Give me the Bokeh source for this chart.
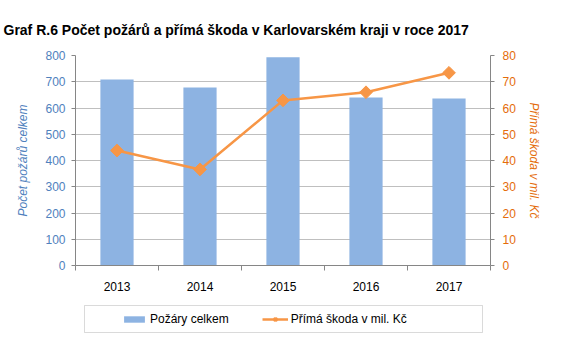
import math
from bokeh.plotting import figure
from bokeh.layouts import column
from bokeh.models import (Range1d, LinearAxis, FixedTicker, Legend, LegendItem,
                          ColumnDataSource, BoxAnnotation)
from bokeh.embed import file_html
from bokeh.resources import INLINE

# ---- data ----
years = ["2013", "2014", "2015", "2016", "2017"]
pozary = [709, 678, 793, 640, 636]
skoda = [43.8, 36.6, 62.9, 66.0, 73.4]
left_ticks = [0, 100, 200, 300, 400, 500, 600, 700, 800]
right_ticks = [0, 10, 20, 30, 40, 50, 60, 70, 80]
series_names = ["Požáry celkem", "Přímá škoda v mil. Kč"]

BAR = "#8DB3E2"
LINE = "#F79646"
LBLUE = "#4F81BD"
LORANGE = "#E46C0A"
AXIS = "#868686"
GRID = "#BFBFBF"
FONT = "Liberation Sans"

xs = [i + 1 for i in range(len(years))]
src = ColumnDataSource(dict(x=xs, pozary=pozary, skoda=skoda))

p = figure(width=575, height=303, output_backend="svg", toolbar_location=None,
           x_range=Range1d(0.5, len(years) + 0.5), y_range=Range1d(0, 800),
           min_border_left=75, min_border_right=85, min_border_top=55,
           min_border_bottom=38)
p.outline_line_color = None
p.extra_y_ranges = {"r": Range1d(0, 80)}

p.title.text = "Graf R.6 Počet požárů a přímá škoda v Karlovarském kraji v roce 2017"
p.title.text_font = FONT
p.title.text_font_style = "bold"
p.title.text_font_size = "14px"
p.title.text_color = "#000000"
p.title.align = "left"
p.title.offset = -72
p.title.standoff = 36

p.vbar(x="x", top="pozary", width=0.4, source=src, fill_color=BAR, line_color=None)
p.line(x="x", y="skoda", source=src, y_range_name="r", line_color=LINE, line_width=2.5)
p.scatter(x="x", y="skoda", source=src, y_range_name="r", marker="square",
          angle=math.pi / 4, size=9, fill_color=LINE, line_color=LINE)

# x axis
xa = p.xaxis[0]
xa.ticker = FixedTicker(ticks=xs, minor_ticks=[x - 0.5 for x in xs] + [xs[-1] + 0.5])
xa.major_label_overrides = {x: y for x, y in zip(xs, years)}
xa.major_tick_out = 0
xa.major_tick_in = 0
xa.minor_tick_out = 5
xa.minor_tick_in = 0
xa.minor_tick_line_color = AXIS
xa.axis_line_color = AXIS
xa.major_label_text_font = FONT
xa.major_label_text_font_size = "12px"
xa.major_label_text_color = "#000000"
xa.major_label_standoff = 11
p.xgrid.grid_line_color = None

# left axis
ya = p.yaxis[0]
ya.ticker = FixedTicker(ticks=left_ticks)
ya.axis_line_color = AXIS
ya.major_tick_line_color = AXIS
ya.major_tick_out = 4
ya.major_tick_in = 0
ya.minor_tick_line_color = None
ya.major_label_text_font = FONT
ya.major_label_text_font_size = "12px"
ya.major_label_text_color = LBLUE
ya.major_label_standoff = 6
ya.axis_label = "Počet požárů celkem"
ya.axis_label_text_font = FONT
ya.axis_label_text_font_style = "italic"
ya.axis_label_text_font_size = "12px"
ya.axis_label_text_color = LBLUE
ya.axis_label_standoff = 12
p.ygrid.grid_line_color = GRID
p.ygrid.ticker = FixedTicker(ticks=left_ticks)

# right axis
ra = LinearAxis(y_range_name="r", ticker=FixedTicker(ticks=right_ticks))
ra.axis_line_color = AXIS
ra.major_tick_line_color = AXIS
ra.major_tick_out = 4
ra.major_tick_in = 0
ra.minor_tick_line_color = None
ra.major_label_text_font = FONT
ra.major_label_text_font_size = "12px"
ra.major_label_text_color = LORANGE
ra.major_label_standoff = 8
ra.axis_label = "Přímá škoda v mil. Kč"
ra.axis_label_text_font = FONT
ra.axis_label_text_font_style = "italic"
ra.axis_label_text_font_size = "12px"
ra.axis_label_text_color = LORANGE
ra.axis_label_standoff = 8
p.add_layout(ra, "right")

# ---- legend strip (same frame borders as the chart; ranges far from the data,
# so its glyphs only serve the legend) ----
B = 1000
lg = figure(width=575, height=48, output_backend="svg", toolbar_location=None,
            x_range=Range1d(B + 75, B + 490), y_range=Range1d(B, B + 48),
            x_axis_type=None, y_axis_type=None,
            min_border_left=75, min_border_right=85, min_border_top=0,
            min_border_bottom=0)
lg.outline_line_color = None
lg.xgrid.visible = False
lg.ygrid.visible = False
lg.add_layout(BoxAnnotation(left=B + 84, right=B + 482, bottom=B + 19, top=B + 46,
                            fill_alpha=0, line_color=AXIS, line_width=1))
lb = lg.vbar(x="x", top="pozary", width=0.4, source=src, fill_color=BAR, line_color=None)
ll = lg.line(x="x", y="skoda", source=src, line_color=LINE, line_width=2.5)
lm = lg.scatter(x="x", y="skoda", source=src, marker="square", angle=math.pi / 4,
                size=9, fill_color=LINE, line_color=LINE)
legend = Legend(items=[LegendItem(label=series_names[0], renderers=[lb]),
                       LegendItem(label=series_names[1], renderers=[ll, lm])],
                orientation="horizontal", location=(46, 25),
                border_line_color=None, background_fill_alpha=0,
                label_text_font=FONT, label_text_font_size="12px",
                label_text_color="#000000", glyph_width=26, glyph_height=8,
                label_height=14, spacing=33, padding=0, margin=0,
                label_standoff=3)
lg.add_layout(legend)

open("out.html", "w").write(file_html(column(p, lg, spacing=0), INLINE))
